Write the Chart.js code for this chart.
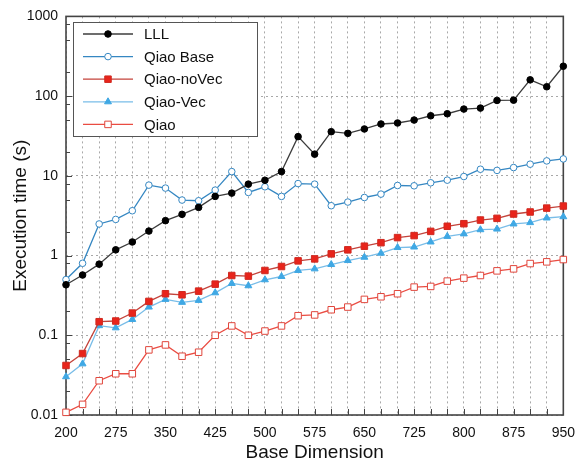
<!DOCTYPE html>
<html>
<head>
<meta charset="utf-8">
<script src="https://cdn.jsdelivr.net/npm/chart.js@4.4.1/dist/chart.umd.min.js"></script>
<style>
  html, body { margin: 0; padding: 0; background: #fff; }
  #wrap { width: 585px; height: 464px; }
</style>
</head>
<body>
<div id="wrap"><canvas id="timing" width="585" height="464"></canvas></div>
<script>
// base dimensions measured
const dims = [200, 225, 250, 275, 300, 325, 350, 375, 400, 425, 450, 475, 500, 525, 550, 575,
  600, 625, 650, 675, 700, 725, 750, 775, 800, 825, 850, 875, 900, 925, 950];

// execution times in seconds
const lll = [0.43, 0.57, 0.78, 1.18, 1.48, 2.03, 2.74, 3.29, 4.02, 5.52, 6.07, 7.87, 8.8, 11.3, 31, 18.7,
  35.8, 34.1, 38.7, 44.7, 46, 50.1, 56.7, 60.1, 68.8, 70.8, 88.3, 89, 160, 131, 237];
const qiaoBase = [0.5, 0.8, 2.49, 2.84, 3.65, 7.65, 7.02, 4.97, 4.87, 6.62, 11.3, 6.19, 7.29, 5.52, 8.0, 7.87,
  4.22, 4.69, 5.35, 5.9, 7.57, 7.5, 8.18, 8.83, 9.8, 12.1, 11.7, 12.7, 14.0, 15.4, 16.3];
const qiaoNoVec = [0.0418, 0.059, 0.148, 0.151, 0.19, 0.266, 0.332, 0.322, 0.358, 0.438, 0.562, 0.552, 0.65, 0.729, 0.858, 0.908,
  1.05, 1.18, 1.31, 1.45, 1.68, 1.78, 2.01, 2.33, 2.51, 2.79, 2.93, 3.32, 3.52, 3.94, 4.18];
const qiaoVec = [0.0302, 0.0438, 0.132, 0.124, 0.158, 0.226, 0.282, 0.259, 0.274, 0.341, 0.447, 0.418, 0.497, 0.546, 0.65, 0.681,
  0.772, 0.866, 0.953, 1.07, 1.26, 1.28, 1.48, 1.74, 1.87, 2.11, 2.15, 2.49, 2.59, 2.96, 3.07];
const qiao = [0.0108, 0.0136, 0.0269, 0.0329, 0.0329, 0.0656, 0.0757, 0.0546, 0.0613, 0.1, 0.131, 0.1, 0.113, 0.131, 0.176, 0.18,
  0.209, 0.226, 0.282, 0.304, 0.332, 0.402, 0.41, 0.478, 0.521, 0.562, 0.643, 0.681, 0.794, 0.834, 0.891];

const xLabelEvery = 75;
const yMinorTicks = [2, 5, 8];

const FONT = '"Liberation Sans", Arial, Helvetica, sans-serif';
const AXIS = '#444';
const GRID = '#a8a8a8';

function pts(vals) {
  return vals.map((v, i) => ({ x: dims[i], y: v }));
}

function series(label, vals, line, fill, edge, style, radius) {
  return {
    label,
    data: pts(vals),
    borderColor: line,
    borderWidth: 1.3,
    pointStyle: style,
    pointRadius: radius,
    pointBackgroundColor: fill,
    pointBorderColor: edge,
    pointBorderWidth: 1,
    tension: 0,
    clip: false
  };
}

const isDecade = v => Math.abs(Math.log10(v) - Math.round(Math.log10(v))) < 1e-6;

// frame, inside tick marks
const framePlugin = {
  id: 'frame',
  beforeDatasetsDraw(chart) {
    const { ctx, chartArea: a, scales } = chart;
    ctx.save();
    ctx.strokeStyle = AXIS;
    ctx.lineWidth = 1;
    ctx.beginPath();
    // bottom ticks every 25
    for (let v = 200; v <= 950; v += 25) {
      const x = Math.round(scales.x.getPixelForValue(v)) + 0.5;
      ctx.moveTo(x, a.bottom);
      ctx.lineTo(x, a.bottom - 6);
    }
    // left ticks
    for (let e = -2; e <= 3; e++) {
      const y = Math.round(scales.y.getPixelForValue(Math.pow(10, e))) + 0.5;
      ctx.moveTo(a.left, y);
      ctx.lineTo(a.left + 6, y);
      if (e < 3) {
        yMinorTicks.forEach(m => {
          const ym = Math.round(scales.y.getPixelForValue(m * Math.pow(10, e))) + 0.5;
          ctx.moveTo(a.left, ym);
          ctx.lineTo(a.left + 4, ym);
        });
      }
    }
    ctx.stroke();
    ctx.lineWidth = 1.6;
    ctx.strokeRect(a.left, a.top, a.right - a.left, a.bottom - a.top);
    ctx.restore();
  }
};

// boxed legend in the upper left of the plot
const legendPlugin = {
  id: 'boxLegend',
  afterDatasetsDraw(chart) {
    const { ctx } = chart;
    const bx = 73, by = 22, bw = 184, bh = 114;
    ctx.save();
    ctx.fillStyle = '#fff';
    ctx.fillRect(bx, by, bw, bh);
    ctx.strokeStyle = '#555';
    ctx.lineWidth = 1;
    ctx.strokeRect(bx + 0.5, by + 0.5, bw, bh);
    ctx.font = '15px ' + FONT;
    ctx.textBaseline = 'middle';
    ctx.textAlign = 'left';
    chart.data.datasets.forEach((ds, i) => {
      const y = 34 + i * 22.6;
      ctx.strokeStyle = ds.borderColor;
      ctx.lineWidth = ds.borderWidth;
      ctx.beginPath();
      ctx.moveTo(83, y);
      ctx.lineTo(133, y);
      ctx.stroke();
      ctx.fillStyle = ds.pointBackgroundColor;
      ctx.strokeStyle = ds.pointBorderColor;
      ctx.lineWidth = ds.pointBorderWidth;
      Chart.helpers.drawPoint(ctx, {
        pointStyle: ds.pointStyle, radius: ds.pointRadius, rotation: 0, borderWidth: 1
      }, 108, y);
      ctx.fillStyle = '#111';
      ctx.fillText(ds.label, 144, y + 1);
    });
    ctx.restore();
  }
};

new Chart(document.getElementById('timing'), {
  type: 'line',
  data: {
    datasets: [
      series('LLL', lll, '#3c3c3c', '#000', '#000', 'circle', 3.3),
      series('Qiao Base', qiaoBase, '#3587c2', '#fff', '#3587c2', 'circle', 3.3),
      series('Qiao-noVec', qiaoNoVec, '#c4433b', '#e8241b', '#d02a20', 'rect', 4.6),
      series('Qiao-Vec', qiaoVec, '#79bde8', '#3fa8e4', '#3fa8e4', 'triangle', 4),
      series('Qiao', qiao, '#ea4c42', '#fff', '#e0463c', 'rect', 4.6)
    ]
  },
  options: {
    responsive: false,
    animation: false,
    layout: { padding: { top: 15, right: 13, left: 0, bottom: 0 } },
    plugins: { legend: { display: false }, tooltip: { enabled: false } },
    scales: {
      x: {
        type: 'linear',
        min: 200,
        max: 950,
        afterFit(scale) { scale.height = 49; },
        border: { display: false, dash: [2, 3] },
        grid: {
          drawTicks: false,
          color: GRID,
          lineWidth: 1
        },
        ticks: {
          stepSize: 25,
          autoSkip: false,
          maxRotation: 0,
          padding: 10,
          color: '#111',
          font: { family: FONT, size: 14 },
          callback: v => ((v - 200) % xLabelEvery === 0 ? String(v) : '')
        },
        title: {
          display: true,
          text: 'Base Dimension',
          color: '#111',
          font: { family: FONT, size: 19 },
          padding: { top: 0, bottom: 0 }
        }
      },
      y: {
        type: 'logarithmic',
        min: 0.01,
        max: 1000,
        afterFit(scale) { scale.width = 66; },
        border: { display: false, dash: [2, 3] },
        grid: {
          drawTicks: false,
          color: ctx => (isDecade(ctx.tick.value) ? GRID : 'rgba(0,0,0,0)'),
          lineWidth: 1
        },
        ticks: {
          autoSkip: false,
          padding: 8,
          color: '#111',
          font: { family: FONT, size: 14 },
          callback: v => (isDecade(v) ? String(Number(v.toPrecision(3))) : '')
        },
        title: {
          display: true,
          text: 'Execution time (s)',
          color: '#111',
          font: { family: FONT, size: 19 },
          padding: { top: 9, bottom: 0 }
        }
      }
    }
  },
  plugins: [framePlugin, legendPlugin]
});
</script>
</body>
</html>
